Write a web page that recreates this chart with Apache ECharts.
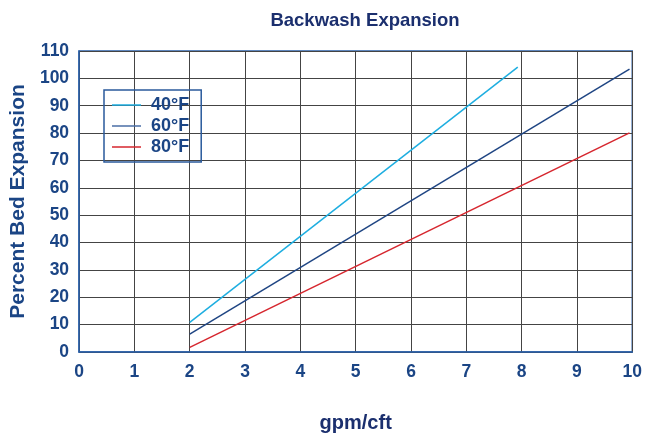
<!DOCTYPE html>
<html>
<head>
<meta charset="utf-8">
<script src="https://cdn.jsdelivr.net/npm/echarts@6/dist/echarts.min.js"></script>
<style>html,body{margin:0;padding:0;background:#fff}#c{width:645px;height:438px}</style>
</head>
<body>
<div id="c"></div>
<script>
var seriesNames = ['40°F', '60°F', '80°F'];
var s40 = [[2, 10.8], [7.93, 104.1]];
var s60 = [[2, 6.5], [9.95, 103.4]];
var s80 = [[2, 1.7], [9.95, 80.1]];
var xTicks = [0, 1, 2, 3, 4, 5, 6, 7, 8, 9, 10];
var yTicks = [0, 10, 20, 30, 40, 50, 60, 70, 80, 90, 100, 110];

var labelColor = '#1b4585';
var font = 'Liberation Sans';
var chart = echarts.init(document.getElementById('c'));
chart.setOption({
  animation: false,
  title: {
    text: 'Backwash Expansion', left: 360, top: 6, textAlign: 'center',
    textStyle: { fontFamily: font, fontSize: 18.5, fontWeight: 'bold', color: '#1b2f6e' }
  },
  legend: {
    orient: 'vertical', left: 104, top: 90,
    padding: [5, 12, 5, 8], itemGap: 1,
    borderColor: '#2a5a9c', borderWidth: 1.5,
    icon: 'rect', itemWidth: 29, itemHeight: 1.5,
    textStyle: { fontFamily: font, fontSize: 18, lineHeight: 20, fontWeight: 'bold', color: labelColor, padding: [0, 0, 0, 5] },
    data: seriesNames
  },
  grid: { left: 73, right: 6, top: 51, bottom: 74.5, show: true, borderColor: '#2a5fa8', borderWidth: 1.5 },
  xAxis: {
    type: 'value', min: 0, max: 10, interval: 1,
    name: 'gpm/cft', nameLocation: 'middle', nameGap: 61,
    nameTextStyle: { fontFamily: font, fontSize: 20, fontWeight: 'bold', color: '#1b2f6e' },
    axisLine: { show: true, lineStyle: { color: '#2a5fa8', width: 1.5 } },
    axisTick: { show: false },
    axisLabel: { margin: 11, fontFamily: font, fontSize: 17.5, fontWeight: 'bold', color: labelColor,
      formatter: function (v) { return xTicks.indexOf(v) >= 0 ? String(v) : ''; } },
    splitLine: { show: true, lineStyle: { color: '#444', width: 1 } }
  },
  yAxis: {
    type: 'value', min: 0, max: 110, interval: 10,
    name: 'Percent Bed Expansion', nameLocation: 'middle', nameGap: 44,
    nameTextStyle: { fontFamily: font, fontSize: 21, fontWeight: 'bold', color: labelColor },
    axisLine: { show: true, lineStyle: { color: '#2a5fa8', width: 1.5 } },
    axisTick: { show: false },
    axisLabel: { margin: 10, fontFamily: font, fontSize: 17.5, fontWeight: 'bold', color: labelColor,
      formatter: function (v) { return yTicks.indexOf(v) >= 0 ? String(v) : ''; } },
    splitLine: { show: true, lineStyle: { color: '#444', width: 1 } }
  },
  series: [
    { name: seriesNames[0], type: 'line', data: s40, symbol: 'none', lineStyle: { color: '#1eaee0', width: 1.5 }, itemStyle: { color: '#1eaee0' } },
    { name: seriesNames[1], type: 'line', data: s60, symbol: 'none', lineStyle: { color: '#1f4583', width: 1.5 }, itemStyle: { color: '#4a6ea6' } },
    { name: seriesNames[2], type: 'line', data: s80, symbol: 'none', lineStyle: { color: '#d6262e', width: 1.5 }, itemStyle: { color: '#d6262e' } }
  ]
});
</script>
</body>
</html>
